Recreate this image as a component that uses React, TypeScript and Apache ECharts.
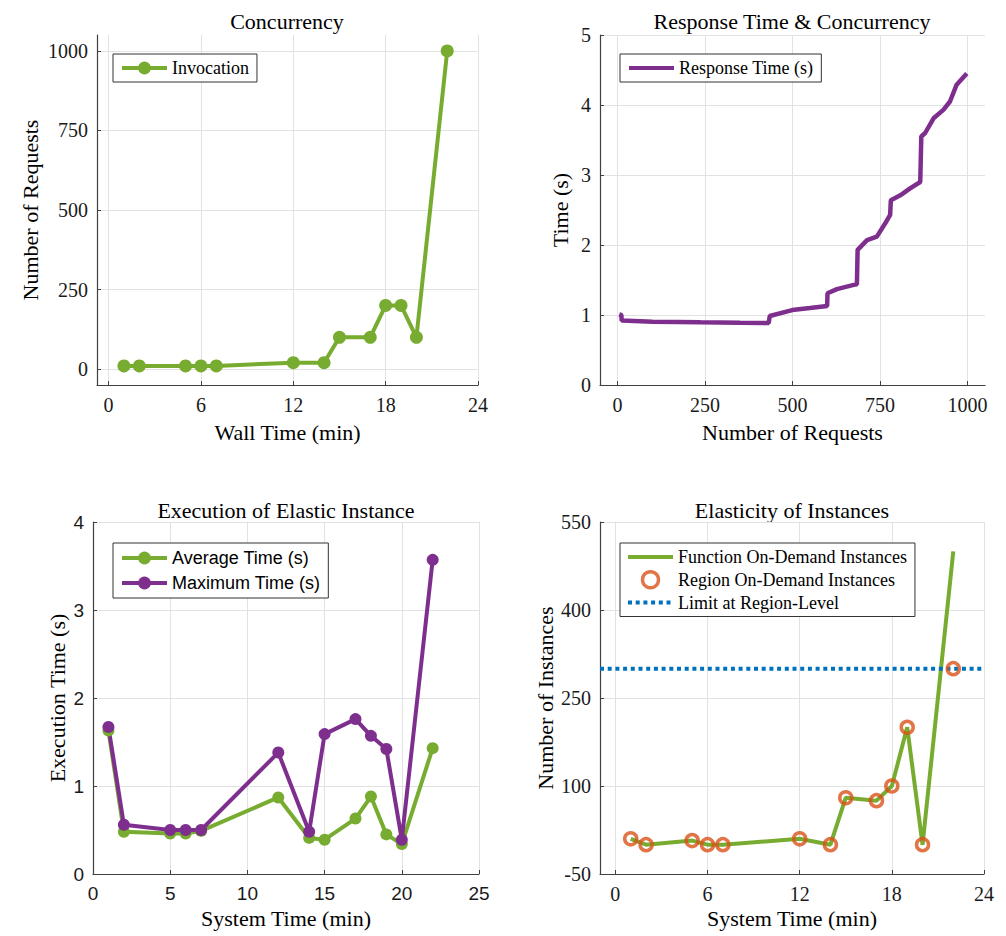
import React, { useEffect, useRef } from "react";
import * as echarts from "echarts";

// Panel 1: Concurrency
const wallTime = [1, 2, 5, 6, 7, 12, 14, 15, 17, 18, 19, 20, 22];
const invocations = [10, 10, 10, 10, 10, 20, 20, 100, 100, 200, 200, 100, 1000];

// Panel 2: Response time vs number of requests
const rtRequests = [5, 11, 12, 100, 237, 350, 432, 435, 499, 550, 599, 600, 627, 675, 684, 686, 713, 741, 765, 779, 781, 808, 836, 865, 868, 879, 903, 931, 950, 969, 998];
const rtSeconds = [1.01, 1.0, 0.92, 0.905, 0.896, 0.89, 0.886, 0.986, 1.07, 1.1, 1.13, 1.31, 1.37, 1.43, 1.44, 1.93, 2.07, 2.12, 2.31, 2.43, 2.64, 2.71, 2.81, 2.9, 3.55, 3.6, 3.81, 3.93, 4.05, 4.29, 4.45];

// Panel 3: Execution of elastic instance
const sysTime = [1, 2, 5, 6, 7, 12, 14, 15, 17, 18, 19, 20, 22];
const avgTime = [1.63, 0.48, 0.46, 0.46, 0.49, 0.87, 0.41, 0.39, 0.63, 0.88, 0.45, 0.34, 1.43];
const maxTime = [1.67, 0.56, 0.5, 0.5, 0.5, 1.38, 0.48, 1.59, 1.76, 1.57, 1.42, 0.39, 3.57];

// Panel 4: Elasticity of instances
const funcInstances = [10, 0, 7, 0, 0, 10, 0, 80, 75, 100, 200, 0, 500];
const regionInstances = [10, 0, 7, 0, 0, 10, 0, 80, 75, 100, 200, 0, 300];
const regionLimit = 300;

// Tick labels
const p1XTicks = [0, 6, 12, 18, 24];
const p1YTicks = [0, 250, 500, 750, 1000];
const p2XTicks = [0, 250, 500, 750, 1000];
const p4XTicks = [0, 6, 12, 18, 24];
const p4YTicks = [-50, 100, 250, 400, 550];

const GREEN = "#77AC30";
const PURPLE = "#7E2F8E";
const ORANGE = "#D95319";
const BLUE = "#0072BD";
const SERIF = "Liberation Serif";
const SANS = "Liberation Sans";
const AXIS_COLOR = "#404040";
const GRID_COLOR = "#e2e2e2";
const NONE = "rgba(0,0,0,0)";

const zip = (xs: number[], ys: number[]) => xs.map((x, i) => [x, ys[i]]);
const plain = (v: number) => String(v);

function tick(custom?: number[]) {
  const t: any = { show: true, inside: true, length: 4, lineStyle: { color: AXIS_COLOR } };
  if (custom) t.customValues = custom;
  return t;
}
function label(font: string, size: number, margin: number, custom?: number[]) {
  const l: any = { fontFamily: font, fontSize: size, color: "#1a1a1a", margin, formatter: plain };
  if (custom) l.customValues = custom;
  return l;
}

function axisBase(opts: any) {
  return {
    type: "value",
    nameLocation: "middle",
    nameTextStyle: { fontFamily: SERIF, fontSize: 22, color: "#000" },
    axisLine: { show: true, onZero: false, lineStyle: { color: AXIS_COLOR, width: 1.2 } },
    splitLine: { show: true, lineStyle: { color: GRID_COLOR, width: 1 } },
    ...opts,
  };
}

function legendBase(left: number, top: number, names: any[], font: string, gap: number, pad: number[]) {
  return {
    left,
    top,
    orient: "vertical",
    data: names,
    itemWidth: 45,
    itemHeight: 16,
    itemGap: gap,
    padding: pad,
    borderColor: "#333",
    borderWidth: 1,
    backgroundColor: "#fff",
    lineStyle: { width: 4 },
    textStyle: { fontFamily: font, fontSize: 18, color: "#000", lineHeight: 18 },
  };
}

export default function App() {
  const ref = useRef<HTMLDivElement>(null);
  useEffect(() => {
    if (!ref.current) return;
    const chart = echarts.init(ref.current, null, { renderer: "svg" });
    const titleStyle = (text: string, x: number, y: number) => ({
      type: "text",
      x,
      y,
      style: {
        text,
        fontFamily: SERIF,
        fontSize: 22,
        fill: "#000",
        align: "center",
        verticalAlign: "middle",
        textAlign: "center",
        textVerticalAlign: "middle",
      },
    });
    const option: any = {
      animation: false,
      backgroundColor: "#fff",
      textStyle: { fontFamily: SERIF },
      graphic: [
        titleStyle("Concurrency", 287, 21),
        titleStyle("Response Time & Concurrency", 792, 21),
        titleStyle("Execution of Elastic Instance", 286, 510),
        titleStyle("Elasticity of Instances", 792, 510),
      ],
      grid: [
        { left: 97, top: 35, width: 381, height: 350 },
        { left: 600, top: 35, width: 385, height: 350 },
        { left: 93, top: 522, width: 386, height: 352 },
        { left: 600, top: 522, width: 384, height: 352 },
      ],
      xAxis: [
        axisBase({
          gridIndex: 0, min: -0.75, max: 24, name: "Wall Time (min)", nameGap: 36,
          axisTick: tick(p1XTicks), axisLabel: label(SERIF, 20, 10, p1XTicks),
        }),
        axisBase({
          gridIndex: 1, min: -50, max: 1050, name: "Number of Requests", nameGap: 36,
          axisTick: tick(p2XTicks), axisLabel: label(SERIF, 20, 10, p2XTicks),
        }),
        axisBase({
          gridIndex: 2, min: 0, max: 25, interval: 5, name: "System Time (min)", nameGap: 33,
          axisTick: tick(), axisLabel: label(SANS, 19, 10),
        }),
        axisBase({
          gridIndex: 3, min: -1, max: 24, name: "System Time (min)", nameGap: 33,
          axisTick: tick(p4XTicks), axisLabel: label(SERIF, 20, 10, p4XTicks),
        }),
      ],
      yAxis: [
        axisBase({
          gridIndex: 0, min: -50, max: 1050, name: "Number of Requests", nameGap: 56,
          axisTick: tick(p1YTicks), axisLabel: label(SERIF, 20, 9, p1YTicks),
        }),
        axisBase({
          gridIndex: 1, min: 0, max: 5, interval: 1, name: "Time (s)", nameGap: 29,
          axisTick: tick(), axisLabel: label(SERIF, 20, 9),
        }),
        axisBase({
          gridIndex: 2, min: 0, max: 4, interval: 1, name: "Execution Time (s)", nameGap: 25,
          axisTick: tick(), axisLabel: label(SANS, 19, 9),
        }),
        axisBase({
          gridIndex: 3, min: -50, max: 550, name: "Number of Instances", nameGap: 44,
          axisTick: tick(p4YTicks), axisLabel: label(SERIF, 20, 9, p4YTicks),
        }),
      ],
      legend: [
        legendBase(113, 54, ["Invocation"], SERIF, 7, [5, 8, 5, 7]),
        legendBase(620, 54, ["Response Time (s)"], SERIF, 7, [5, 8, 5, 7]),
        legendBase(113, 543, ["Average Time (s)", "Maximum Time (s)"], SANS, 7, [6, 8, 6, 7]),
        legendBase(620, 543, [
          "Function On-Demand Instances",
          { name: "Region On-Demand Instances", itemStyle: { color: NONE, borderColor: ORANGE, borderWidth: 3.5 } },
          "Limit at Region-Level",
        ], SERIF, 4, [5, 8, 5, 6]),
      ],
      series: [
        {
          name: "Invocation", type: "line", xAxisIndex: 0, yAxisIndex: 0,
          data: zip(wallTime, invocations), symbol: "circle", symbolSize: 13,
          itemStyle: { color: GREEN }, lineStyle: { color: GREEN, width: 4 },
        },
        {
          name: "Response Time (s)", type: "line", xAxisIndex: 1, yAxisIndex: 1,
          data: zip(rtRequests, rtSeconds), symbol: "none",
          itemStyle: { color: NONE }, lineStyle: { color: PURPLE, width: 4.5 },
        },
        {
          name: "Average Time (s)", type: "line", xAxisIndex: 2, yAxisIndex: 2,
          data: zip(sysTime, avgTime), symbol: "circle", symbolSize: 12,
          itemStyle: { color: GREEN }, lineStyle: { color: GREEN, width: 4 },
        },
        {
          name: "Maximum Time (s)", type: "line", xAxisIndex: 2, yAxisIndex: 2,
          data: zip(sysTime, maxTime), symbol: "circle", symbolSize: 12,
          itemStyle: { color: PURPLE }, lineStyle: { color: PURPLE, width: 4 },
        },
        {
          name: "Function On-Demand Instances", type: "line", xAxisIndex: 3, yAxisIndex: 3,
          data: zip(sysTime, funcInstances), symbol: "none",
          itemStyle: { color: NONE }, lineStyle: { color: GREEN, width: 4 },
        },
        {
          name: "Region On-Demand Instances", type: "scatter", xAxisIndex: 3, yAxisIndex: 3,
          data: zip(sysTime, regionInstances), symbol: "circle", symbolSize: 12,
          itemStyle: { color: NONE, borderColor: ORANGE, borderWidth: 3.5 },
          z: 4,
        },
        {
          name: "Limit at Region-Level", type: "line", xAxisIndex: 3, yAxisIndex: 3,
          data: [[-1, regionLimit], [24, regionLimit]], symbol: "none",
          itemStyle: { color: NONE }, lineStyle: { color: BLUE, width: 4, type: [4, 3.7] },
          z: 3,
        },
      ],
    };
    chart.setOption(option);
    return () => chart.dispose();
  }, []);
  return <div ref={ref} style={{ position: "absolute", left: 0, top: 0, width: 1006, height: 936 }} />;
}
